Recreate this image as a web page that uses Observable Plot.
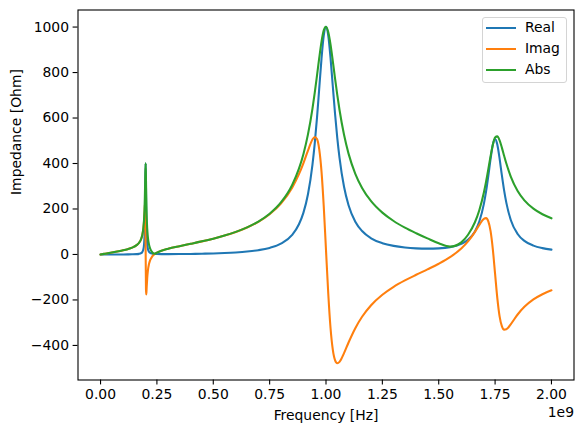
<!DOCTYPE html>
<html>
<head>
<meta charset="utf-8">
<script src="https://cdn.jsdelivr.net/npm/d3@7"></script>
<script src="https://cdn.jsdelivr.net/npm/@observablehq/plot@0.6"></script>
<style>
  html, body { margin: 0; padding: 0; background: #fff; }
  #wrap { position: relative; width: 583px; height: 432px; font-family: "DejaVu Sans", sans-serif; }
  #wrap svg { display: block; }
  .legend { position: absolute; left: 481.7px; top: 16.7px; width: 83px; height: 64.6px;
            border: 1px solid #d4d4d4; border-radius: 3px; background: rgba(255,255,255,0.8);
            padding-top: 0.2px; box-sizing: content-box; }
  .row { height: 20.7px; display: flex; align-items: center; padding-left: 3.3px; }
  .sw { width: 29.7px; height: 2.08px; margin-right: 9.3px; }
  .lab { font-size: 13.9px; color: #000; line-height: 1; }
</style>
</head>
<body>
<div id="wrap"></div>
<script>
// Frequency in units of 1e9 Hz
const freqE9 = [0, 0.02, 0.05, 0.08, 0.1, 0.12, 0.14, 0.16, 0.17, 0.18, 0.185, 0.19, 0.193, 0.195, 0.1965, 0.1975, 0.1985, 0.2, 0.2015, 0.2025, 0.2035, 0.205, 0.207, 0.21, 0.215, 0.22, 0.23, 0.24, 0.25, 0.27, 0.3, 0.35, 0.4, 0.45, 0.5, 0.55, 0.6, 0.65, 0.7, 0.75, 0.8, 0.85, 0.88, 0.9, 0.92, 0.94, 0.95, 0.96, 0.97, 0.98, 0.99, 1.0, 1.01, 1.02, 1.03, 1.04, 1.05, 1.06, 1.08, 1.1, 1.13, 1.16, 1.2, 1.25, 1.3, 1.35, 1.4, 1.45, 1.5, 1.55, 1.6, 1.63, 1.66, 1.68, 1.7, 1.71, 1.72, 1.73, 1.74, 1.75, 1.76, 1.77, 1.78, 1.79, 1.8, 1.82, 1.85, 1.88, 1.92, 1.96, 2.0];

const realOhm = [0, 0.0, 0.04, 0.12, 0.21, 0.37, 0.68, 1.5, 2.64, 5.88, 10.38, 22.8, 44.22, 78.8, 134.0, 199.1, 293.9, 400.4, 295.1, 201.7, 137.2, 82.0, 47.1, 25.1, 12.09, 7.27, 3.74, 2.5, 1.94, 1.52, 1.45, 1.77, 2.37, 3.25, 4.6, 6.37, 8.93, 12.77, 18.8, 28.9, 47.5, 86.3, 132.7, 183.9, 264.7, 395.4, 487.7, 600.7, 730.1, 860.4, 962.1, 1000.9, 962.8, 865.4, 742.0, 620.0, 513.1, 424.9, 297.6, 216.7, 144.3, 103.0, 71.3, 49.7, 37.7, 30.7, 26.9, 25.6, 26.9, 32.33, 46.43, 64.61, 100.36, 144.75, 221.27, 277.3, 345.84, 420.22, 482.35, 507.15, 482.3, 421.2, 348.6, 281.7, 226.7, 150.6, 89.9, 59.6, 38.9, 27.85, 21.25];

const imagOhm = [0, 3.3, 8.39, 13.96, 18.19, 23.27, 30.0, 40.88, 50.41, 67.9, 84.28, 114.45, 147.7, 181.9, 211.9, 223.4, 200.3, 23.72, -152.3, -175.97, -165.5, -136.8, -103.8, -71.13, -41.43, -25.2, -7.77, 1.79, 8.15, 16.67, 25.35, 36.55, 46.88, 57.58, 69.39, 82.9, 98.89, 118.52, 143.5, 176.7, 223.6, 293.4, 353.0, 402.0, 456.7, 505.4, 516.8, 507.3, 462.1, 365.6, 211.9, 19.09, -171.9, -322.4, -417.7, -464.7, -478.4, -472.3, -433.8, -387.0, -324.0, -274.0, -223.3, -177.2, -142.3, -114.1, -89.4, -65.76, -40.95, -11.93, 26.5, 57.79, 98.39, 130.05, 156.86, 159.88, 145.61, 102.46, 22.55, -85.4, -192.8, -271.9, -315.2, -330.5, -329.2, -305.9, -264.0, -230.3, -197.7, -174.7, -157.6];

const absOhm = [0, 3.3, 8.39, 13.96, 18.2, 23.3, 30.0, 40.9, 50.48, 68.15, 84.9, 116.7, 154.2, 198.2, 250.7, 299.2, 355.7, 401.1, 332.1, 267.7, 215.0, 159.5, 114.0, 75.4, 43.2, 26.2, 8.6, 3.07, 8.38, 16.74, 25.39, 36.6, 46.94, 57.67, 69.54, 83.14, 99.29, 119.2, 144.7, 179.05, 228.6, 305.8, 377.1, 442.1, 527.9, 641.7, 710.6, 786.3, 864.0, 934.9, 985.2, 1001.1, 978.0, 923.5, 851.5, 774.8, 701.5, 635.3, 526.1, 443.5, 354.7, 292.7, 234.4, 184.0, 147.2, 118.2, 93.4, 70.6, 49.0, 34.46, 53.5, 86.7, 140.5, 194.6, 271.2, 320.1, 375.2, 432.5, 482.9, 514.3, 519.4, 501.3, 470.0, 434.3, 399.7, 341.0, 278.9, 237.9, 201.5, 176.9, 159.0];

const seriesNames = ["Real", "Imag", "Abs"];
const seriesColors = ["#1f77b4", "#ff7f0e", "#2ca02c"];

const xTicks = [0, 0.25, 0.5, 0.75, 1.0, 1.25, 1.5, 1.75, 2.0];
const xTickLabels = ["0.00", "0.25", "0.50", "0.75", "1.00", "1.25", "1.50", "1.75", "2.00"];
const yTicks = [-400, -200, 0, 200, 400, 600, 800, 1000];
const yTickLabels = ["\u2212400", "\u2212200", "0", "200", "400", "600", "800", "1000"];

const xLabel = "Frequency [Hz]";
const yLabel = "Impedance [Ohm]";
const offsetLabel = "1e9";

const rows = freqE9.map((f, i) => ({ f, Real: realOhm[i], Imag: imagOhm[i], Abs: absOhm[i] }));

const chart = Plot.plot({
  width: 583,
  height: 432,
  marginLeft: 77.5,
  marginRight: 9.5,
  marginTop: 9.5,
  marginBottom: 52.5,
  style: { fontFamily: "DejaVu Sans, sans-serif", fontSize: "13.9px", color: "#000", background: "#fff", overflow: "visible" },
  x: { domain: [-0.1, 2.1] },
  y: { domain: [-552, 1075] },
  marks: [
    ...seriesNames.map((s, k) => Plot.line(rows, { x: "f", y: s, stroke: seriesColors[k], strokeWidth: 2.08, curve: "monotone-x" })),
    Plot.frame({ stroke: "#000", strokeWidth: 1.1 }),
    Plot.axisX({ ticks: xTicks, tickFormat: d => xTickLabels[xTicks.indexOf(d)], tickSize: 4.9, tickPadding: 4.2, label: null, fontSize: 13.9, strokeWidth: 1.1 }),
    Plot.axisY({ ticks: yTicks, tickFormat: d => yTickLabels[yTicks.indexOf(d)], tickSize: 4.9, tickPadding: 4.1, label: null, fontSize: 13.9, strokeWidth: 1.1 }),
    Plot.text([xLabel], { frameAnchor: "bottom", dy: 36, text: d => d, lineAnchor: "middle", fontSize: 13.9 }),
    Plot.text([yLabel], { frameAnchor: "left", dx: -61.8, rotate: -90, text: d => d, lineAnchor: "middle", fontSize: 13.9 }),
    Plot.text([offsetLabel], { frameAnchor: "bottom-right", dy: 32.2, textAnchor: "end", text: d => d, lineAnchor: "middle", fontSize: 13.9 })
  ]
});

const wrap = document.getElementById("wrap");
wrap.appendChild(chart);

const legend = document.createElement("div");
legend.className = "legend";
seriesNames.forEach((s, k) => {
  const row = document.createElement("div");
  row.className = "row";
  const sw = document.createElement("div");
  sw.className = "sw";
  sw.style.background = seriesColors[k];
  const lab = document.createElement("span");
  lab.className = "lab";
  lab.textContent = s;
  row.appendChild(sw);
  row.appendChild(lab);
  legend.appendChild(row);
});
wrap.appendChild(legend);
</script>
</body>
</html>
